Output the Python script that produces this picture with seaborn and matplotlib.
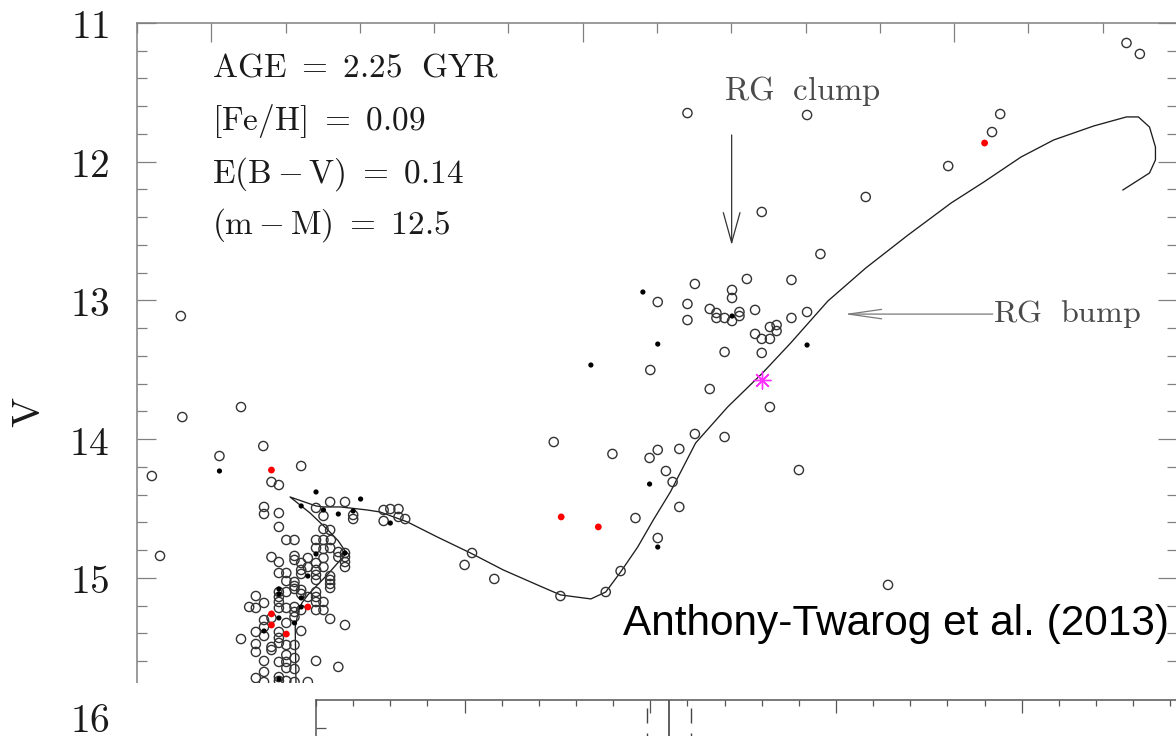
import numpy as np
import pandas as pd
import matplotlib
matplotlib.use("Agg")
import matplotlib.pyplot as plt
from matplotlib.patches import Rectangle
from matplotlib.ticker import MultipleLocator, FuncFormatter, NullFormatter
import seaborn as sns

# ---------------------------------------------------------------- data
# isochrone (B-V, V)
ISO_BV = [0.614, 0.614, 0.613, 0.617, 0.622, 0.630, 0.656, 0.682, 0.671, 0.657,
          0.633, 0.606, 0.641, 0.651, 0.674, 0.710, 0.727, 0.764, 0.804, 0.849,
          0.893, 0.939, 0.970, 1.011, 1.031, 1.051, 1.074, 1.095, 1.118, 1.152,
          1.195, 1.242, 1.280, 1.330, 1.381, 1.438, 1.496, 1.540, 1.590, 1.634,
          1.688, 1.732, 1.748, 1.763, 1.771, 1.771, 1.763, 1.727]
ISO_V = [16.000, 15.757, 15.353, 15.245, 15.180, 15.122, 14.978, 14.820, 14.733, 14.654,
         14.532, 14.416, 14.481, 14.488, 14.488, 14.510, 14.524, 14.596, 14.704, 14.820,
         14.942, 15.050, 15.122, 15.151, 15.101, 14.957, 14.777, 14.582, 14.380, 14.027,
         13.768, 13.523, 13.306, 13.004, 12.766, 12.528, 12.297, 12.146, 11.966, 11.843,
         11.742, 11.677, 11.677, 11.750, 11.894, 11.987, 12.081, 12.204]

# photometry: turnoff / main-sequence stars (open symbols)
MS_STARS = np.array([
    (0.459, 13.112), (0.461, 13.840), (0.540, 13.768), (0.420, 14.265), (0.511, 14.121),
    (0.570, 14.049), (0.621, 14.193), (0.431, 14.841), (0.581, 14.308), (0.591, 14.330),
    (0.571, 14.488), (0.571, 14.539), (0.591, 14.532), (0.591, 14.632), (0.601, 14.726),
    (0.612, 14.726), (0.641, 14.495), (0.651, 14.553), (0.660, 14.452), (0.680, 14.452),
    (0.691, 14.546), (0.691, 14.575), (0.651, 14.647), (0.660, 14.654), (0.641, 14.726),
    (0.651, 14.726), (0.661, 14.726), (0.641, 14.784), (0.651, 14.791), (0.660, 14.784),
    (0.671, 14.813), (0.680, 14.820), (0.581, 14.849), (0.612, 14.841), (0.630, 14.856),
    (0.651, 14.856), (0.671, 14.849), (0.591, 14.885), (0.612, 14.870), (0.621, 14.892),
    (0.630, 14.921), (0.641, 14.892), (0.651, 14.921), (0.680, 14.849), (0.680, 14.885),
    (0.680, 14.921), (0.591, 14.964), (0.601, 14.964), (0.601, 15.022), (0.612, 15.029),
    (0.612, 15.058), (0.612, 15.079), (0.621, 14.942), (0.621, 14.971), (0.641, 14.942),
    (0.641, 14.978), (0.641, 15.014), (0.660, 14.986), (0.660, 15.014), (0.660, 15.043),
    (0.660, 15.072), (0.591, 15.101), (0.591, 15.137), (0.591, 15.173), (0.601, 15.101),
    (0.621, 15.086), (0.621, 15.115), (0.630, 15.137), (0.641, 15.101), (0.641, 15.137),
    (0.641, 15.173), (0.651, 15.173), (0.560, 15.130), (0.551, 15.209), (0.560, 15.216),
    (0.571, 15.180), (0.591, 15.216), (0.601, 15.216), (0.612, 15.209), (0.612, 15.245),
    (0.612, 15.281), (0.621, 15.231), (0.641, 15.231), (0.651, 15.231), (0.660, 15.295),
    (0.680, 15.339), (0.571, 15.303), (0.571, 15.353), (0.571, 15.418), (0.581, 15.288),
    (0.601, 15.324), (0.621, 15.382), (0.591, 15.389), (0.591, 15.432), (0.560, 15.389),
    (0.540, 15.440), (0.560, 15.476), (0.560, 15.533), (0.581, 15.497), (0.581, 15.519),
    (0.591, 15.468), (0.601, 15.483), (0.601, 15.555), (0.601, 15.605), (0.601, 15.649),
    (0.612, 15.483), (0.612, 15.577), (0.612, 15.656), (0.571, 15.598), (0.571, 15.677),
    (0.591, 15.605), (0.641, 15.598), (0.671, 15.641), (0.560, 15.721), (0.571, 15.750),
    (0.591, 15.714), (0.591, 15.742), (0.601, 15.742), (0.612, 15.750), (0.630, 15.750),
])

# subgiants, giants and clump stars (open symbols)
GIANT_STARS = np.array([
    (0.732, 14.510), (0.741, 14.503), (0.752, 14.503), (0.732, 14.589), (0.752, 14.560),
    (0.761, 14.575), (0.851, 14.820), (0.841, 14.906), (0.881, 15.007), (0.970, 15.130),
    (1.031, 15.101), (1.051, 14.950), (1.071, 14.568), (1.101, 14.712), (0.961, 14.020),
    (1.040, 14.106), (1.090, 14.135), (1.101, 14.077), (1.112, 14.229), (1.121, 14.308),
    (1.130, 14.070), (1.151, 13.962), (1.191, 13.984), (1.130, 14.488), (1.171, 13.638),
    (1.252, 13.768), (1.291, 14.222), (1.411, 15.050), (1.091, 13.501), (1.191, 13.371),
    (1.241, 13.378), (1.101, 13.011), (1.141, 13.025), (1.141, 13.141), (1.151, 12.881),
    (1.201, 12.924), (1.201, 12.982), (1.171, 13.061), (1.180, 13.090), (1.180, 13.126),
    (1.191, 13.126), (1.201, 13.148), (1.211, 13.083), (1.211, 13.112), (1.221, 12.845),
    (1.232, 13.068), (1.281, 12.852), (1.281, 13.126), (1.302, 13.083), (1.252, 13.191),
    (1.261, 13.177), (1.261, 13.220), (1.232, 13.241), (1.241, 13.277), (1.252, 13.277),
    (1.320, 12.665), (1.241, 12.362), (1.381, 12.254), (1.492, 12.031), (1.551, 11.786),
    (1.562, 11.656), (1.732, 11.144), (1.750, 11.223), (1.302, 11.663), (1.141, 11.649),
])

# stars shown as small filled dots
DOT_STARS = np.array([
    (0.511, 14.229), (0.641, 14.380), (0.621, 14.481), (0.651, 14.510), (0.671, 14.539),
    (0.691, 14.517), (0.701, 14.431), (0.741, 14.604), (0.680, 14.820), (0.641, 14.827),
    (0.630, 14.986), (0.591, 15.079), (0.591, 15.115), (0.621, 15.144), (0.621, 15.209),
    (0.591, 15.288), (0.612, 15.324), (0.571, 15.382), (0.591, 15.728), (1.081, 12.939),
    (1.201, 13.112), (1.101, 13.314), (1.302, 13.321), (1.011, 13.465), (1.090, 14.323),
    (1.101, 14.777),
])

# stars shown in red
RED_STARS = np.array([
    (0.581, 14.222), (0.581, 15.259), (0.581, 15.339), (0.601, 15.404), (0.630, 15.209),
    (0.971, 14.560), (1.021, 14.632), (1.541, 11.865),
])

# highlighted star
SPECIAL_STAR = np.array([(1.241, 13.573)])

FIT_LABELS = [r"$\mathrm{AGE}\ =\ \mathrm{2.25\ \ GYR}$",
              r"$\mathrm{[Fe/H]}\ =\ \mathrm{0.09}$",
              r"$\mathrm{E(B}-\mathrm{V)}\ =\ \mathrm{0.14}$",
              r"$\mathrm{(m}-\mathrm{M)}\ =\ \mathrm{12.5}$"]
FIT_LABEL_V = [11.389, 11.771, 12.153, 12.521]

V_TICKS = [11, 12, 13, 14, 15, 16]

# lower panel: mean and spread markers
LOW_MEAN = 2.55
LOW_SPREAD = 0.06

# ---------------------------------------------------------------- style
sns.set_theme(style="white")
plt.rcParams["mathtext.fontset"] = "cm"
plt.rcParams["font.family"] = ["DejaVu Sans"]

W, H = 1176, 736
fig = plt.figure(figsize=(W / 100, H / 100), dpi=100)
fig.patch.set_facecolor("white")

SPINE = "#808080"

# main colour-magnitude panel
ax_left, ax_right = 137, 1177
ax_top, ax_bottom = 23, 786.1
ax = fig.add_axes([ax_left / W, (H - ax_bottom) / H,
                   (ax_right - ax_left) / W, (ax_bottom - ax_top) / H])
ax.set_facecolor("white")

line_df = pd.DataFrame({"bv": ISO_BV, "v": ISO_V})
sns.lineplot(data=line_df, x="bv", y="v", sort=False, estimator=None,
             color="#1e1e1e", lw=0.95, ax=ax, zorder=2)

for stars in (MS_STARS, GIANT_STARS):
    df = pd.DataFrame(stars, columns=["bv", "v"])
    sns.scatterplot(data=df, x="bv", y="v", marker="o", s=44, fc="none",
                    ec="#333333", linewidth=1.0, ax=ax, zorder=3, legend=False)

df = pd.DataFrame(DOT_STARS, columns=["bv", "v"])
sns.scatterplot(data=df, x="bv", y="v", marker="o", s=14, color="black",
                ec="none", ax=ax, zorder=4, legend=False)

df = pd.DataFrame(RED_STARS, columns=["bv", "v"])
sns.scatterplot(data=df, x="bv", y="v", marker="o", s=24, color="#ff0000",
                ec="none", ax=ax, zorder=5, legend=False)

df = pd.DataFrame(SPECIAL_STAR, columns=["bv", "v"])
sns.scatterplot(data=df, x="bv", y="v", marker=(8, 2, 0), s=150, color="#ff33ff",
                ec="#ff33ff", linewidth=1.0, ax=ax, zorder=6, legend=False)

ax.set_xlim(0.4, 1.8)
ax.set_ylim(16.5, 11.0)

ax.xaxis.set_major_locator(MultipleLocator(0.5))
ax.xaxis.set_minor_locator(MultipleLocator(0.1))
ax.yaxis.set_major_locator(MultipleLocator(1.0))
ax.yaxis.set_minor_locator(MultipleLocator(0.2))
ax.yaxis.set_major_formatter(FuncFormatter(lambda v, p: rf"${v:.0f}$"))
ax.xaxis.set_major_formatter(NullFormatter())

ax.tick_params(which="both", direction="in", top=True, bottom=True,
               left=True, right=True, color=SPINE, width=0.9)
ax.tick_params(which="major", length=13.7)
ax.tick_params(which="minor", length=7.2)
ax.tick_params(axis="x", labelbottom=False, labeltop=False)
ax.tick_params(axis="y", labelsize=28.5, pad=19.5, labelcolor="#1a1a1a")
for sp in ax.spines.values():
    sp.set_color(SPINE)
    sp.set_linewidth(1.1)

ax.set_xlabel("")
ax.set_ylabel(r"$\mathrm{V}$", fontsize=29, color="#1a1a1a")
ax.yaxis.set_label_coords((29 - ax_left) / (ax_right - ax_left),
                          (ax_bottom - 412) / (ax_bottom - ax_top))
ax.yaxis.label.set_va("center")

# fit parameters
for label, v in zip(FIT_LABELS, FIT_LABEL_V):
    ax.text(0.501, v, label, fontsize=24, ha="left", va="baseline",
            color="#1a1a1a", zorder=7)

# feature annotations
ax.annotate("", xy=(1.2005, 12.600), xytext=(1.2005, 11.807),
            arrowprops=dict(arrowstyle="->,head_length=1.08,head_width=0.3",
                            mutation_scale=20, color="#333333", lw=0.9,
                            shrinkA=0, shrinkB=0), zorder=7)
ax.text(1.190, 11.555, r"$\mathrm{RG\ \ clump}$", fontsize=23.5,
        ha="left", va="baseline", color="#4a4a4a", zorder=7)

ax.annotate("", xy=(1.352, 13.098), xytext=(1.552, 13.098),
            arrowprops=dict(arrowstyle="->,head_length=1.19,head_width=0.17",
                            mutation_scale=20, color="#7a7a7a", lw=0.9,
                            shrinkA=0, shrinkB=0), zorder=7)
ax.text(1.552, 13.153, r"$\mathrm{RG\ \ bump}$", fontsize=23,
        ha="left", va="baseline", color="#4a4a4a", zorder=7)

ax.text(1.7895, 15.411, "Anthony-Twarog et al. (2013)", fontsize=30.5,
        family=["Liberation Sans", "DejaVu Sans"], ha="right", va="baseline",
        color="black", zorder=8)

# blank band separating the lower panel
fig.add_artist(Rectangle(((ax_left - 4) / W, 0), 1.0, (H - 683) / H,
                         transform=fig.transFigure, facecolor="white",
                         edgecolor="none", zorder=1))

# lower panel
low_left, low_top = 316, 700
low_h = 140
low_xlim = (1.6, 3.95)
px_per_unit = 371.4
low_w = (low_xlim[1] - low_xlim[0]) * px_per_unit
ax2 = fig.add_axes([low_left / W, (H - low_top - low_h) / H, low_w / W, low_h / H],
                   zorder=3)
ax2.set_facecolor("white")
ax2.set_xlim(*low_xlim)
ax2.set_ylim(0, 20)
ax2.xaxis.set_major_locator(MultipleLocator(0.5))
ax2.xaxis.set_minor_locator(MultipleLocator(0.1))
ax2.set_yticks([0, 4, 8, 12, 16])
ax2.tick_params(which="both", direction="in", top=True, bottom=True,
                left=True, right=True, color="#555555", width=0.9,
                labelbottom=False, labelleft=False, labeltop=False, labelright=False)
ax2.tick_params(axis="x", which="major", length=9.4)
ax2.tick_params(axis="x", which="minor", length=4.3)
ax2.tick_params(axis="y", which="major", length=7.2)
for sp in ax2.spines.values():
    sp.set_color("#555555")
    sp.set_linewidth(1.1)

ax2.axvline(LOW_MEAN, color="#444444", lw=1.2)
for xv in (LOW_MEAN - LOW_SPREAD, LOW_MEAN + LOW_SPREAD):
    ax2.plot([xv, xv], [20, 0], color="#444444", lw=1.0,
             linestyle=(12.24, (10.8, 7.2)))

fig.savefig("out.png", dpi=100, facecolor="white")
